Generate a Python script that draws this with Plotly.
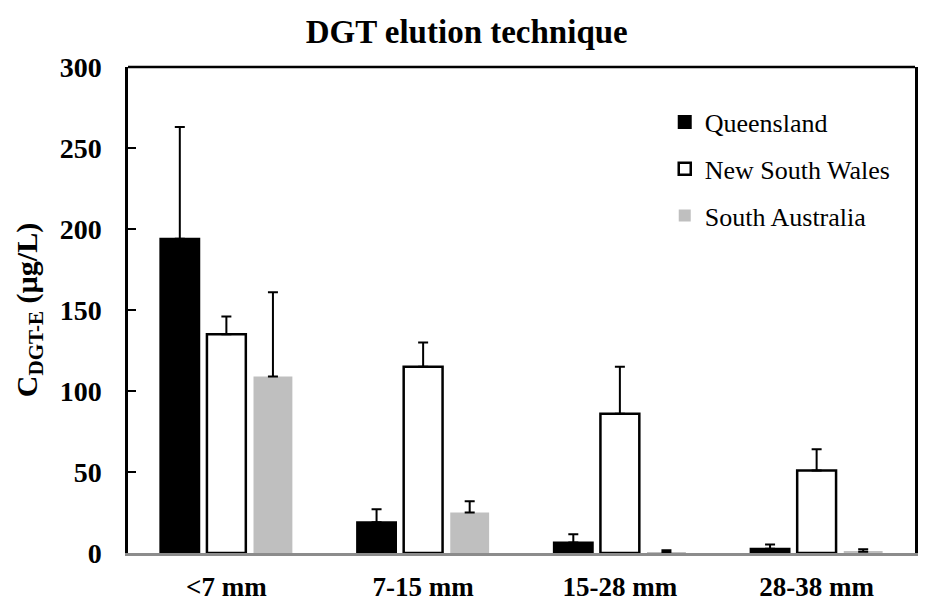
import plotly.graph_objects as go

categories = ["<7 mm", "7-15 mm", "15-28 mm", "28-38 mm"]
queensland = [194, 19, 6.5, 2.7]
queensland_err = [69, 8, 5, 2.5]
nsw = [135, 115, 86, 51]
nsw_err = [11, 15, 29, 13]
sa = [109, 25, 0.5, 0.8]
sa_err = [52, 7, 1.2, 1.5]

font_fam = "Liberation Serif"

fig = go.Figure()
fig.add_trace(go.Bar(
    name="Queensland", x=categories, y=queensland, legendgroup="q",
    marker=dict(color="black", line=dict(color="black", width=2)),
    error_y=dict(type="data", array=queensland_err, arrayminus=[0]*4, symmetric=False,
                 color="black", thickness=2, width=5),
))
fig.add_trace(go.Bar(
    name="New South Wales", x=categories, y=nsw, legendgroup="n",
    marker=dict(color="white", line=dict(color="black", width=2.5)),
    error_y=dict(type="data", array=nsw_err, arrayminus=[0]*4, symmetric=False,
                 color="black", thickness=2, width=5),
))
fig.add_trace(go.Bar(
    name="South Australia", x=categories, y=sa, legendgroup="s",
    marker=dict(color="#bfbfbf", line=dict(color="#bfbfbf", width=0)),
    error_y=dict(type="data", array=sa_err, arrayminus=[0]*4, symmetric=False,
                 color="black", thickness=2, width=5),
))

fig.update_layout(
    width=926, height=613,
    margin=dict(l=128, r=8, t=67, b=60),
    paper_bgcolor="white", plot_bgcolor="white",
    barmode="group", bargap=0.29, bargroupgap=0.165,
    title=dict(text="<b>DGT elution technique</b>", x=0.504, xanchor="center",
               y=0.948, yanchor="middle",
               font=dict(family=font_fam, size=33, color="black")),
    font=dict(family=font_fam, color="black"),
    legend=dict(x=0.682, y=0.935, xanchor="left", yanchor="top",
                bgcolor="rgba(0,0,0,0)", font=dict(family=font_fam, size=26, color="black"),
                tracegroupgap=10, traceorder="grouped"),
    xaxis=dict(showline=True, linecolor="#8c8c8c", linewidth=2.5,
               ticks="", showgrid=False, ticklabelstandoff=8,
               tickfont=dict(family=font_fam, size=27, color="black")),
    yaxis=dict(range=[0, 300], dtick=50, showline=True, linecolor="black", linewidth=2.5,
               mirror=True, ticks="inside", ticklen=8, tickwidth=2, tickcolor="black",
               showgrid=False, zeroline=False, ticklabelstandoff=18,
               tickfont=dict(family=font_fam, size=28, color="black"),
               title=dict(text="<b>C<sub>DGT-E</sub> (µg/L)</b>", standoff=14,
                          font=dict(family=font_fam, size=30, color="black"))),
    shapes=[dict(type="line", xref="paper", yref="paper", x0=0, x1=1, y0=1, y1=1,
                 line=dict(color="black", width=2.5))],
)
fig.update_xaxes(tickprefix="<b>", ticksuffix="</b>")
fig.update_yaxes(tickprefix="<b>", ticksuffix="</b>")

fig.write_html("out.html")
